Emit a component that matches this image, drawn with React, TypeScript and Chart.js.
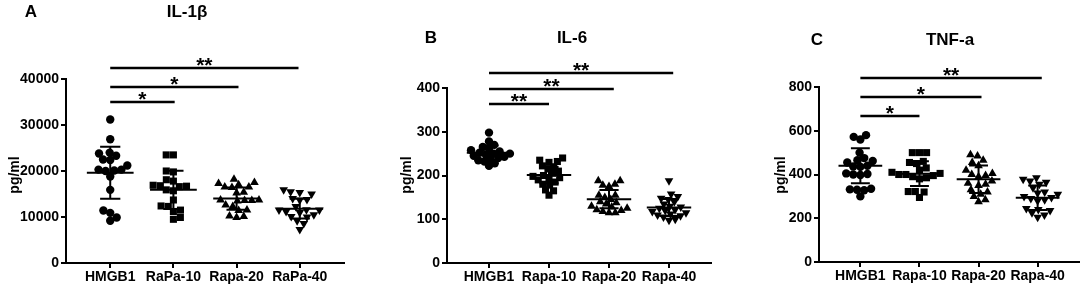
import React, { useEffect, useRef } from "react";
import { Chart, registerables } from "chart.js";

Chart.register(...registerables);

// ---------- DATA ----------
const categoriesA = ["HMGB1", "RaPa-10", "Rapa-20", "RaPa-40"];
const categoriesB = ["HMGB1", "Rapa-10", "Rapa-20", "Rapa-40"];
const categoriesC = ["HMGB1", "Rapa-10", "Rapa-20", "Rapa-40"];

// Panel A: IL-1β (pg/ml)
const il1bHMGB1 = [31200, 26900, 23800, 24000, 22500, 23300, 22400, 20100, 20300, 20300, 20000, 18800, 15900, 10900, 11400, 9200, 9900, 21200];
const il1bRapa10 = [23500, 23500, 19800, 20000, 17800, 18100, 16700, 16900, 16600, 16800, 15900, 15700, 13700, 12400, 12300, 11500, 11200, 9500, 9900];
const il1bRapa20 = [18200, 17500, 17300, 17000, 16500, 16500, 16400, 15200, 15400, 13700, 13600, 13700, 13500, 13600, 12600, 12300, 11500, 11400, 9900, 10200, 10100];
const il1bRapa40 = [15900, 15300, 15000, 15500, 14000, 13700, 12300, 13800, 11600, 11500, 11200, 11500, 11000, 10100, 10000, 9200, 8600, 7300, 10500];
const il1bMean = [19600, 15900, 14000, 11800];
const il1bSD = [5650, 4150, 2400, 2150];
const il1bSigLevels = [35000, 38300, 42400];
const il1bSigEnds = [1.02, 2.03, 2.98];
const il1bSigLabels = ["*", "*", "**"];

// Panel B: IL-6 (pg/ml)
const il6HMGB1 = [298, 278, 270, 265, 262, 258, 255, 252, 250, 250, 248, 245, 243, 240, 238, 235, 232, 228, 222];
const il6Rapa10 = [240, 235, 232, 230, 222, 220, 215, 210, 205, 200, 198, 195, 193, 190, 185, 180, 178, 167, 165, 155];
const il6Rapa20 = [188, 188, 180, 178, 175, 155, 155, 150, 145, 140, 138, 135, 130, 128, 125, 122, 120, 118, 115, 115];
const il6Rapa40 = [188, 158, 152, 148, 145, 140, 135, 130, 128, 125, 122, 120, 118, 115, 112, 110, 108, 105, 100, 98];
const il6Mean = [252, 201, 146, 127];
const il6SD = [16.5, 18.5, 21, 19.5];
const il6SigLevels = [363, 398, 434];
const il6SigEnds = [1.0, 2.08, 3.07];
const il6SigLabels = ["**", "**", "**"];

// Panel C: TNF-a (pg/ml)
const tnfHMGB1 = [580, 572, 560, 500, 475, 465, 462, 455, 440, 437, 435, 405, 402, 400, 398, 335, 332, 330, 328, 300];
const tnfRapa10 = [500, 500, 500, 460, 455, 450, 430, 420, 410, 405, 400, 400, 395, 390, 385, 380, 322, 322, 320, 295];
const tnfRapa20 = [490, 485, 465, 455, 440, 420, 405, 400, 395, 390, 370, 360, 355, 350, 320, 310, 300, 285, 275, 330];
const tnfRapa40 = [385, 378, 370, 365, 355, 340, 320, 315, 310, 300, 295, 290, 285, 280, 245, 240, 235, 225, 215, 205];
const tnfMean = [440, 404, 378, 294];
const tnfSD = [80, 57, 63, 56];
const tnfSigLevels = [667, 754, 841];
const tnfSigEnds = [1.0, 2.05, 3.07];
const tnfSigLabels = ["*", "*", "**"];

// ---------- LAYOUT / STYLE ----------
const FONT = '"Liberation Sans", Arial, Helvetica, sans-serif';

type PanelDef = {
  letter: string;
  title: string;
  categories: string[];
  series: number[][];
  means: number[];
  sds: number[];
  yMax: number;
  yStep: number;
  sigLevels: number[];
  sigEnds: number[];
  sigLabels: string[];
  canvasLeft: number;
  canvasWidth: number;
  chartLeft: number;
  chartRight: number;
  chartTop: number;
  chartBottom: number;
  letterX: number;
  letterY: number;
  titleX: number;
  titleY: number;
  yTitleX: number;
  yTitleY: number;
  spread: number;
};

const panels: PanelDef[] = [
  {
    letter: "A", title: "IL-1β", categories: categoriesA,
    series: [il1bHMGB1, il1bRapa10, il1bRapa20, il1bRapa40],
    means: il1bMean, sds: il1bSD, yMax: 40000, yStep: 10000,
    sigLevels: il1bSigLevels, sigEnds: il1bSigEnds, sigLabels: il1bSigLabels,
    canvasLeft: 0, canvasWidth: 360,
    chartLeft: 66, chartRight: 344, chartTop: 79, chartBottom: 263,
    letterX: 31, letterY: 17, titleX: 187, titleY: 17, yTitleX: 15, yTitleY: 175,
    spread: 7.2,
  },
  {
    letter: "B", title: "IL-6", categories: categoriesB,
    series: [il6HMGB1, il6Rapa10, il6Rapa20, il6Rapa40],
    means: il6Mean, sds: il6SD, yMax: 400, yStep: 100,
    sigLevels: il6SigLevels, sigEnds: il6SigEnds, sigLabels: il6SigLabels,
    canvasLeft: 360, canvasWidth: 360,
    chartLeft: 447, chartRight: 711, chartTop: 88, chartBottom: 263,
    letterX: 431, letterY: 43, titleX: 572, titleY: 43, yTitleX: 407, yTitleY: 175,
    spread: 6.3,
  },
  {
    letter: "C", title: "TNF-a", categories: categoriesC,
    series: [tnfHMGB1, tnfRapa10, tnfRapa20, tnfRapa40],
    means: tnfMean, sds: tnfSD, yMax: 800, yStep: 200,
    sigLevels: tnfSigLevels, sigEnds: tnfSigEnds, sigLabels: tnfSigLabels,
    canvasLeft: 720, canvasWidth: 364,
    chartLeft: 819, chartRight: 1082, chartTop: 87, chartBottom: 262,
    letterX: 817, letterY: 45, titleX: 950, titleY: 45, yTitleX: 781, yTitleY: 175,
    spread: 7.2,
  },
];

const X_MIN = -0.7;
const X_MAX = 3.7;
const HEIGHT = 287;
const pointStyles = ["circle", "rect", "triangle", "triangle"];
const pointRotations = [0, 0, 0, 180];
const pointRadii = [4.2, 5, 5, 5];

function swarm(values: number[], pxPerUnitY: number, diam: number): number[] {
  const order = values.map((_, i) => i).sort((a, b) => values[a] - values[b]);
  const placed: { x: number; y: number }[] = [];
  const out = new Array(values.length).fill(0);
  let flip = 1;
  for (const i of order) {
    const y = values[i] * pxPerUnitY;
    const cands = [0];
    for (const p of placed) {
      const dy = Math.abs(p.y - y);
      if (dy < diam) {
        const dx = Math.sqrt(diam * diam - dy * dy);
        cands.push(p.x + dx + 0.01, p.x - dx - 0.01);
      }
    }
    cands.sort((a, b) => Math.abs(a) - Math.abs(b) || flip * (a - b));
    flip = -flip;
    let chosen = 0;
    for (const c of cands) {
      if (placed.every((p) => (p.x - c) ** 2 + (p.y - y) ** 2 >= diam * diam - 0.001)) {
        chosen = c;
        break;
      }
    }
    placed.push({ x: chosen, y });
    out[i] = chosen;
  }
  return out;
}

function PanelChart({ def }: { def: PanelDef }) {
  const ref = useRef<HTMLCanvasElement | null>(null);

  useEffect(() => {
    if (!ref.current) return;
    const yAxisW = def.chartLeft - def.canvasLeft;
    const xAxisH = HEIGHT - def.chartBottom;
    const rightPad = def.canvasLeft + def.canvasWidth - def.chartRight;
    const pxPerCat = (def.chartRight - def.chartLeft) / (X_MAX - X_MIN);
    const pxPerY = (def.chartBottom - def.chartTop) / def.yMax;

    const datasets = def.series.map((vals, i) => {
      const offs = swarm(vals, pxPerY, def.spread);
      return {
        data: vals.map((v, k) => ({ x: i + offs[k] / pxPerCat, y: v })),
        pointStyle: pointStyles[i] as any,
        rotation: pointRotations[i],
        radius: pointRadii[i],
        backgroundColor: "#000",
        borderColor: "#000",
        borderWidth: 0,
      };
    });

    const tickFont = { family: FONT, size: 14, weight: "bold" as const };

    const overlay = {
      id: "overlay",
      afterDatasetsDraw(chart: any) {
        const ctx = chart.ctx;
        const xs = chart.scales.x;
        const ys = chart.scales.y;
        ctx.save();
        ctx.strokeStyle = "#000";
        ctx.lineWidth = 2;
        def.means.forEach((m, i) => {
          const sd = def.sds[i];
          const yM = ys.getPixelForValue(m);
          const yU = ys.getPixelForValue(m + sd);
          const yL = ys.getPixelForValue(m - sd);
          ctx.beginPath();
          ctx.moveTo(xs.getPixelForValue(i - 0.37), yM);
          ctx.lineTo(xs.getPixelForValue(i + 0.37), yM);
          ctx.moveTo(xs.getPixelForValue(i), yU);
          ctx.lineTo(xs.getPixelForValue(i), yL);
          ctx.moveTo(xs.getPixelForValue(i - 0.16), yU);
          ctx.lineTo(xs.getPixelForValue(i + 0.16), yU);
          ctx.moveTo(xs.getPixelForValue(i - 0.16), yL);
          ctx.lineTo(xs.getPixelForValue(i + 0.16), yL);
          ctx.stroke();
        });
        ctx.restore();
      },
      afterDraw(chart: any) {
        const ctx = chart.ctx;
        const xs = chart.scales.x;
        const ys = chart.scales.y;
        ctx.save();
        ctx.fillStyle = "#000";
        ctx.strokeStyle = "#000";
        // significance bars
        ctx.lineWidth = 2.5;
        def.sigLevels.forEach((lvl, k) => {
          const y = Math.round(ys.getPixelForValue(lvl));
          const x0 = xs.getPixelForValue(0);
          const x1 = xs.getPixelForValue(def.sigEnds[k]);
          ctx.beginPath();
          ctx.moveTo(x0, y);
          ctx.lineTo(x1, y);
          ctx.stroke();
          ctx.font = `bold 21px ${FONT}`;
          ctx.textAlign = "center";
          ctx.textBaseline = "alphabetic";
          ctx.fillText(def.sigLabels[k], (x0 + x1) / 2, y + 4);
        });
        // panel letter + title
        ctx.textAlign = "center";
        ctx.textBaseline = "alphabetic";
        ctx.font = `bold 17px ${FONT}`;
        ctx.fillText(def.letter, def.letterX - def.canvasLeft, def.letterY);
        ctx.fillText(def.title, def.titleX - def.canvasLeft, def.titleY);
        // y axis title
        ctx.save();
        ctx.translate(def.yTitleX - def.canvasLeft, def.yTitleY);
        ctx.rotate(-Math.PI / 2);
        ctx.font = `bold 14px ${FONT}`;
        ctx.textBaseline = "middle";
        ctx.fillText("pg/ml", 0, 0);
        ctx.restore();
        ctx.restore();
      },
    };

    const chart = new Chart(ref.current, {
      type: "scatter",
      data: { datasets: datasets as any },
      options: {
        responsive: false,
        animation: false,
        devicePixelRatio: 1,
        layout: { padding: { left: 0, top: def.chartTop, right: rightPad, bottom: 0 } },
        plugins: { legend: { display: false }, tooltip: { enabled: false }, title: { display: false } },
        scales: {
          x: {
            type: "linear",
            min: X_MIN,
            max: X_MAX,
            afterBuildTicks: (axis: any) => {
              axis.ticks = def.categories.map((_, i) => ({ value: i }));
            },
            afterFit: (s: any) => {
              s.height = xAxisH;
            },
            ticks: {
              callback: (v: any) => def.categories[Math.round(Number(v))] ?? "",
              font: tickFont,
              color: "#000",
              padding: 1,
              maxRotation: 0,
              minRotation: 0,
              autoSkip: false,
            },
            grid: { drawOnChartArea: false, drawTicks: true, tickLength: 5, color: "#000", lineWidth: 2 },
            border: { display: true, color: "#000", width: 2 },
          },
          y: {
            type: "linear",
            min: 0,
            max: def.yMax,
            afterFit: (s: any) => {
              s.width = yAxisW;
            },
            ticks: {
              stepSize: def.yStep,
              font: tickFont,
              color: "#000",
              padding: 2,
              callback: (v: any) => String(v),
            },
            grid: { drawOnChartArea: false, drawTicks: true, tickLength: 5, color: "#000", lineWidth: 2 },
            border: { display: true, color: "#000", width: 2 },
          },
        },
      },
      plugins: [overlay],
    });
    return () => chart.destroy();
  }, [def]);

  return (
    <canvas
      ref={ref}
      width={def.canvasWidth}
      height={HEIGHT}
      style={{ position: "absolute", left: def.canvasLeft, top: 0, width: def.canvasWidth, height: HEIGHT }}
    />
  );
}

export default function App() {
  return (
    <div style={{ position: "absolute", left: 0, top: 0, width: 1084, height: HEIGHT, background: "#fff", overflow: "hidden" }}>
      {panels.map((p) => (
        <PanelChart key={p.letter} def={p} />
      ))}
    </div>
  );
}
